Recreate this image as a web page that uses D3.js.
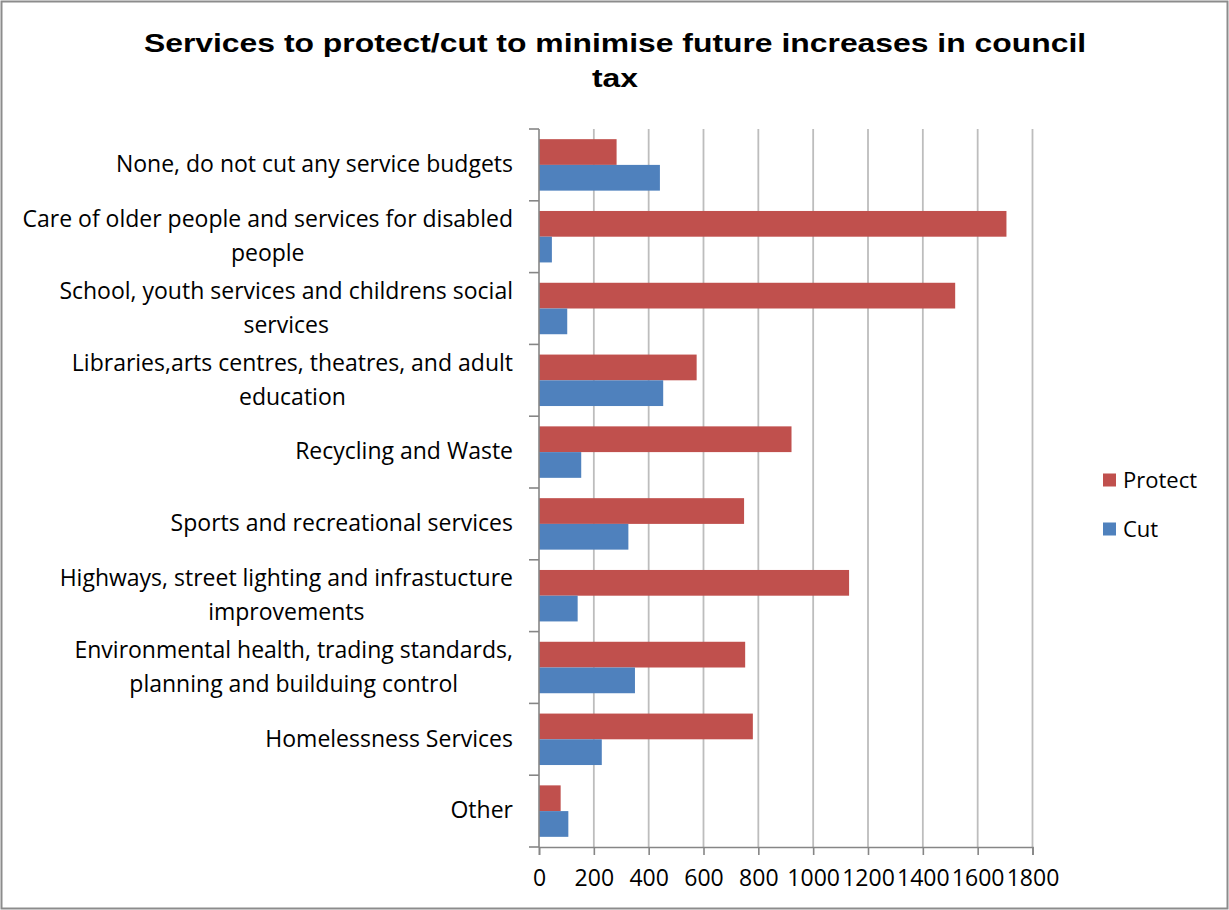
<!DOCTYPE html>
<html><head><meta charset="utf-8">
<script src="https://cdn.jsdelivr.net/npm/d3@7"></script>
<style>body{margin:0;background:#fff}svg{display:block}</style>
</head><body>
<script>
const categories = [
  ["None, do not cut any service budgets"],
  ["Care of older people and services for disabled","people"],
  ["School, youth services and childrens social","services"],
  ["Libraries,arts centres, theatres, and adult","education"],
  ["Recycling and Waste"],
  ["Sports and recreational services"],
  ["Highways, street lighting and infrastucture","improvements"],
  ["Environmental health, trading standards,","planning and builduing control"],
  ["Homelessness Services"],
  ["Other"]
];
const protectValues = [283, 1705, 1518, 575, 921, 748, 1131, 752, 780, 79];
const cutValues     = [441, 47, 103, 453, 154, 326, 141, 350, 229, 107];
const seriesNames = ["Protect", "Cut"];
const seriesColors = ["#C0504D", "#4F81BD"];
const xTicks = [0,200,400,600,800,1000,1200,1400,1600,1800];
const titleLines = ["Services to protect/cut to minimise future increases in council","tax"];

const W = 1229, H = 910;
const FONT = "'Open Sans', Lato, sans-serif";
const FS = 23;
const svg = d3.select("body").append("svg").attr("width", W).attr("height", H);
svg.append("rect").attr("x",1.5).attr("y",1.5).attr("width",W-3).attr("height",H-3)
  .attr("fill","#fff").attr("stroke","#8c8c8c").attr("stroke-width",2);

const plot = {left:539, right:1032.5, top:129, bottom:847};
const x = d3.scaleLinear().domain([0,1800]).range([plot.left, plot.right]);
const y = d3.scaleBand().domain(d3.range(categories.length)).range([plot.top, plot.bottom]).paddingInner(0).paddingOuter(0);
const inner = d3.scaleBand().domain([0,1]).range([0, y.bandwidth()]).paddingInner(0).paddingOuter(0.395);

// gridlines
svg.append("g").selectAll("line").data(xTicks.slice(1)).join("line")
  .attr("x1", d=>x(d)).attr("x2", d=>x(d)).attr("y1", plot.top).attr("y2", plot.bottom)
  .attr("stroke","#bdbdbd").attr("stroke-width",1.8);

// bars
const data = categories.map((c,i)=>[protectValues[i], cutValues[i]]);
const g = svg.append("g");
data.forEach((vals,i)=>{
  vals.forEach((v,s)=>{
    g.append("rect").attr("x", x(0)).attr("y", y(i)+inner(s))
      .attr("width", x(v)-x(0)).attr("height", inner.bandwidth())
      .attr("fill", seriesColors[s]);
  });
});

// x axis
const xAxis = d3.axisBottom(x).tickValues(xTicks).tickSize(8).tickPadding(0).tickFormat(d3.format("d"));
const xg = svg.append("g").attr("transform",`translate(0,${plot.bottom})`).call(xAxis);
xg.select(".domain").attr("stroke","#868686").attr("stroke-width",1.6);
xg.selectAll(".tick line").attr("stroke","#868686").attr("stroke-width",1.6);
xg.selectAll(".tick text").attr("fill","#000").attr("font-family",FONT).attr("font-size",FS)
  .attr("y", 39).attr("dy", null);

// y axis (line + ticks at band boundaries)
svg.append("line").attr("x1",plot.left).attr("x2",plot.left).attr("y1",plot.top).attr("y2",plot.bottom)
  .attr("stroke","#868686").attr("stroke-width",1.6);
svg.append("g").selectAll("line").data(d3.range(categories.length+1)).join("line")
  .attr("x1", plot.left-10).attr("x2", plot.left)
  .attr("y1", d=> plot.top + d*y.bandwidth()).attr("y2", d=> plot.top + d*y.bandwidth())
  .attr("stroke","#868686").attr("stroke-width",1.6);

// category labels
const labelRight = 513, lineH = 34;
categories.forEach((lines,i)=>{
  const cy = y(i) + y.bandwidth()/2;
  const t = svg.append("text").attr("font-family",FONT).attr("font-size",FS).attr("fill","#000");
  const spans = lines.map((l,k)=> t.append("tspan").text(l)
      .attr("y", cy - 1 + (k - (lines.length-1)/2)*lineH).attr("dy","0.36em"));
  const widths = spans.map(s=> s.node().getComputedTextLength());
  const maxW = d3.max(widths);
  t.attr("text-anchor","middle");
  spans.forEach(s=> s.attr("x", labelRight - maxW/2));
});

// title
const titleBase = [52, 87];
titleLines.forEach((l,k)=>{
  svg.append("text").attr("transform", `translate(615,${titleBase[k]}) scale(1.25,1)`)
    .attr("text-anchor","middle").attr("font-family","'Liberation Sans', Arial, sans-serif")
    .attr("font-weight","bold").attr("font-size",25.5).attr("fill","#000").text(l);
});

// legend
const legendY = [480, 529];
seriesNames.forEach((n,k)=>{
  const ly = legendY[k];
  svg.append("rect").attr("x",1103).attr("y",ly-6.5).attr("width",13).attr("height",13).attr("fill",seriesColors[k]);
  svg.append("text").attr("x",1123).attr("y",ly).attr("dy","0.36em")
    .attr("font-family",FONT).attr("font-size",FS-1).attr("fill","#000").text(n);
});
</script>
</body></html>
